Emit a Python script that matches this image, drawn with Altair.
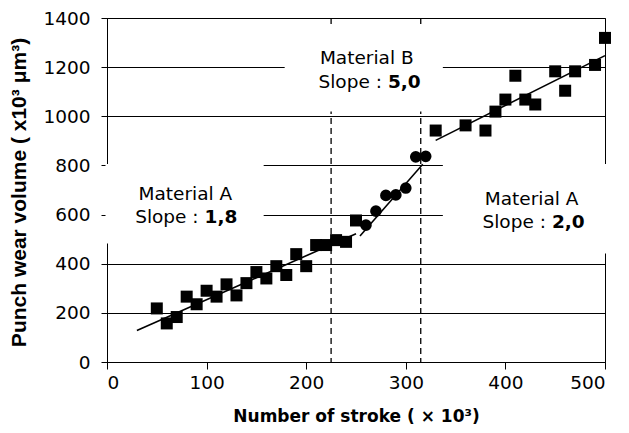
import altair as alt
import pandas as pd

# ---- data ----
sq_x = [50, 60, 70, 80, 90, 100, 110, 120, 130, 140, 150, 160, 170, 180, 190, 200, 210, 220, 230, 240, 250,
        330, 360, 380, 390, 400, 410, 420, 430, 450, 460, 470, 490, 500]
sq_y = [218, 157, 183, 266, 235, 290, 266, 316, 271, 321, 366, 340, 390, 354, 439, 390, 476, 476, 496, 489, 576,
        942, 963, 942, 1019, 1068, 1165, 1068, 1048, 1183, 1104, 1183, 1209, 1319]
circ_x = [260, 270, 280, 290, 300, 310, 320]
circ_y = [557, 614, 678, 680, 708, 835, 837]

fit_seg = ["A1", "A1", "B", "B", "A2", "A2"]
fit_x = [30, 250, 254, 317, 330, 500]
fit_y = [128, 522, 513, 805, 902, 1247]

divide_x = [225, 315]
x_ticks = [0, 100, 200, 300, 400, 500]
y_ticks = [0, 200, 400, 600, 800, 1000, 1200, 1400]

# annotation text boxes (white backgrounds)
box_x = [-1.5, 178.4, 337.2]
box_x2 = [157.3, 337.2, 502]
box_y = [482, 1019, 442]
box_y2 = [806, 1365, 806]
label_name = ["Material A", "Material B", "Material A"]
label_cx = [78.7, 260.8, 426.3]
label_y1 = [661, 1213, 638]
slope_split = [95, 279, 443.7]
label_y2 = [567, 1115, 546]
slope_val = ["1,8", "5,0", "2,0"]

FONT = "DejaVu Sans"
FS = 18.5

squares = pd.DataFrame({"x": sq_x, "y": sq_y})
circles = pd.DataFrame({"x": circ_x, "y": circ_y})
fits = pd.DataFrame({"seg": fit_seg, "x": fit_x, "y": fit_y})
divs = pd.DataFrame({"x": divide_x})
boxes = pd.DataFrame({"x": box_x, "x2": box_x2, "y": box_y, "y2": box_y2})
labels = pd.DataFrame({"name": label_name, "cx": label_cx, "y1": label_y1,
                       "split": slope_split, "y2": label_y2, "val": slope_val})

xs = alt.Scale(domain=[0, 500], nice=False, zero=False)
ys = alt.Scale(domain=[0, 1400], nice=False, zero=False)

x_axis = alt.Axis(values=x_ticks, format="d", title="Number of stroke ( \u00d7 10\u00b3)", grid=False,
                  tickSize=7, labelPadding=4, labelFont=FONT, labelFontSize=FS,
                  titleFont=FONT, titleFontSize=17, titleFontWeight="bold",
                  titleY=54, titleBaseline="middle")
y_axis = alt.Axis(values=y_ticks, format="d", title="Punch wear volume ( x10\u00b3 \u03bcm\u00b3)", grid=True,
                  tickSize=6, labelPadding=11, labelFont=FONT, labelFontSize=FS,
                  titleFont="Liberation Sans", titleFontSize=21, titleFontWeight="bold",
                  titleX=-88, titleY=174, titleBaseline="middle", titleAlign="center", titleAngle=270)


def X(field):
    return alt.X(field, type="quantitative", scale=xs, axis=x_axis)


def Y(field):
    return alt.Y(field, type="quantitative", scale=ys, axis=y_axis)


dashes = alt.Chart(divs).mark_rule(color="black", strokeWidth=1.3, strokeDash=[6, 4]).encode(
    x=X("x"),
)
rects = alt.Chart(boxes).mark_rect(fill="white", opacity=1).encode(
    x=X("x"), x2="x2:Q", y=Y("y"), y2="y2:Q",
)
t_name = alt.Chart(labels).mark_text(font=FONT, fontSize=FS, align="center", baseline="alphabetic", color="black").encode(
    x=X("cx"), y=Y("y1"), text="name:N")
t_slope = alt.Chart(labels).mark_text(font=FONT, fontSize=FS, align="right", baseline="alphabetic", dx=-3, color="black").encode(
    x=X("split"), y=Y("y2"), text=alt.value("Slope :"))
t_val = alt.Chart(labels).mark_text(font=FONT, fontSize=FS, fontWeight="bold", align="left", baseline="alphabetic", dx=3, color="black").encode(
    x=X("split"), y=Y("y2"), text="val:N")
fit_lines = alt.Chart(fits).mark_line(color="black", strokeWidth=1.6).encode(
    x=X("x"), y=Y("y"), detail="seg:N",
)
circ_pts = alt.Chart(circles).mark_point(shape="circle", filled=True, color="black", opacity=1, size=135).encode(
    x=X("x"), y=Y("y"),
)
sq_pts = alt.Chart(squares).mark_point(shape="square", filled=True, color="black", opacity=1, size=144).encode(
    x=X("x"), y=Y("y"),
)

chart = alt.layer(dashes, rects, t_name, t_slope, t_val, fit_lines, circ_pts, sq_pts).properties(
    width=498, height=344, autosize="none",
    padding={"left": 99, "top": 10, "right": 10, "bottom": 70},
    background="white",
).configure_view(stroke="black", strokeWidth=1).configure_axis(
    domainColor="black", tickColor="black", gridColor="black", gridOpacity=1, gridWidth=1,
    labelColor="black", titleColor="black", domainWidth=1, tickWidth=1,
)

chart.save("out.html", embed_options={"renderer": "svg", "actions": False})
